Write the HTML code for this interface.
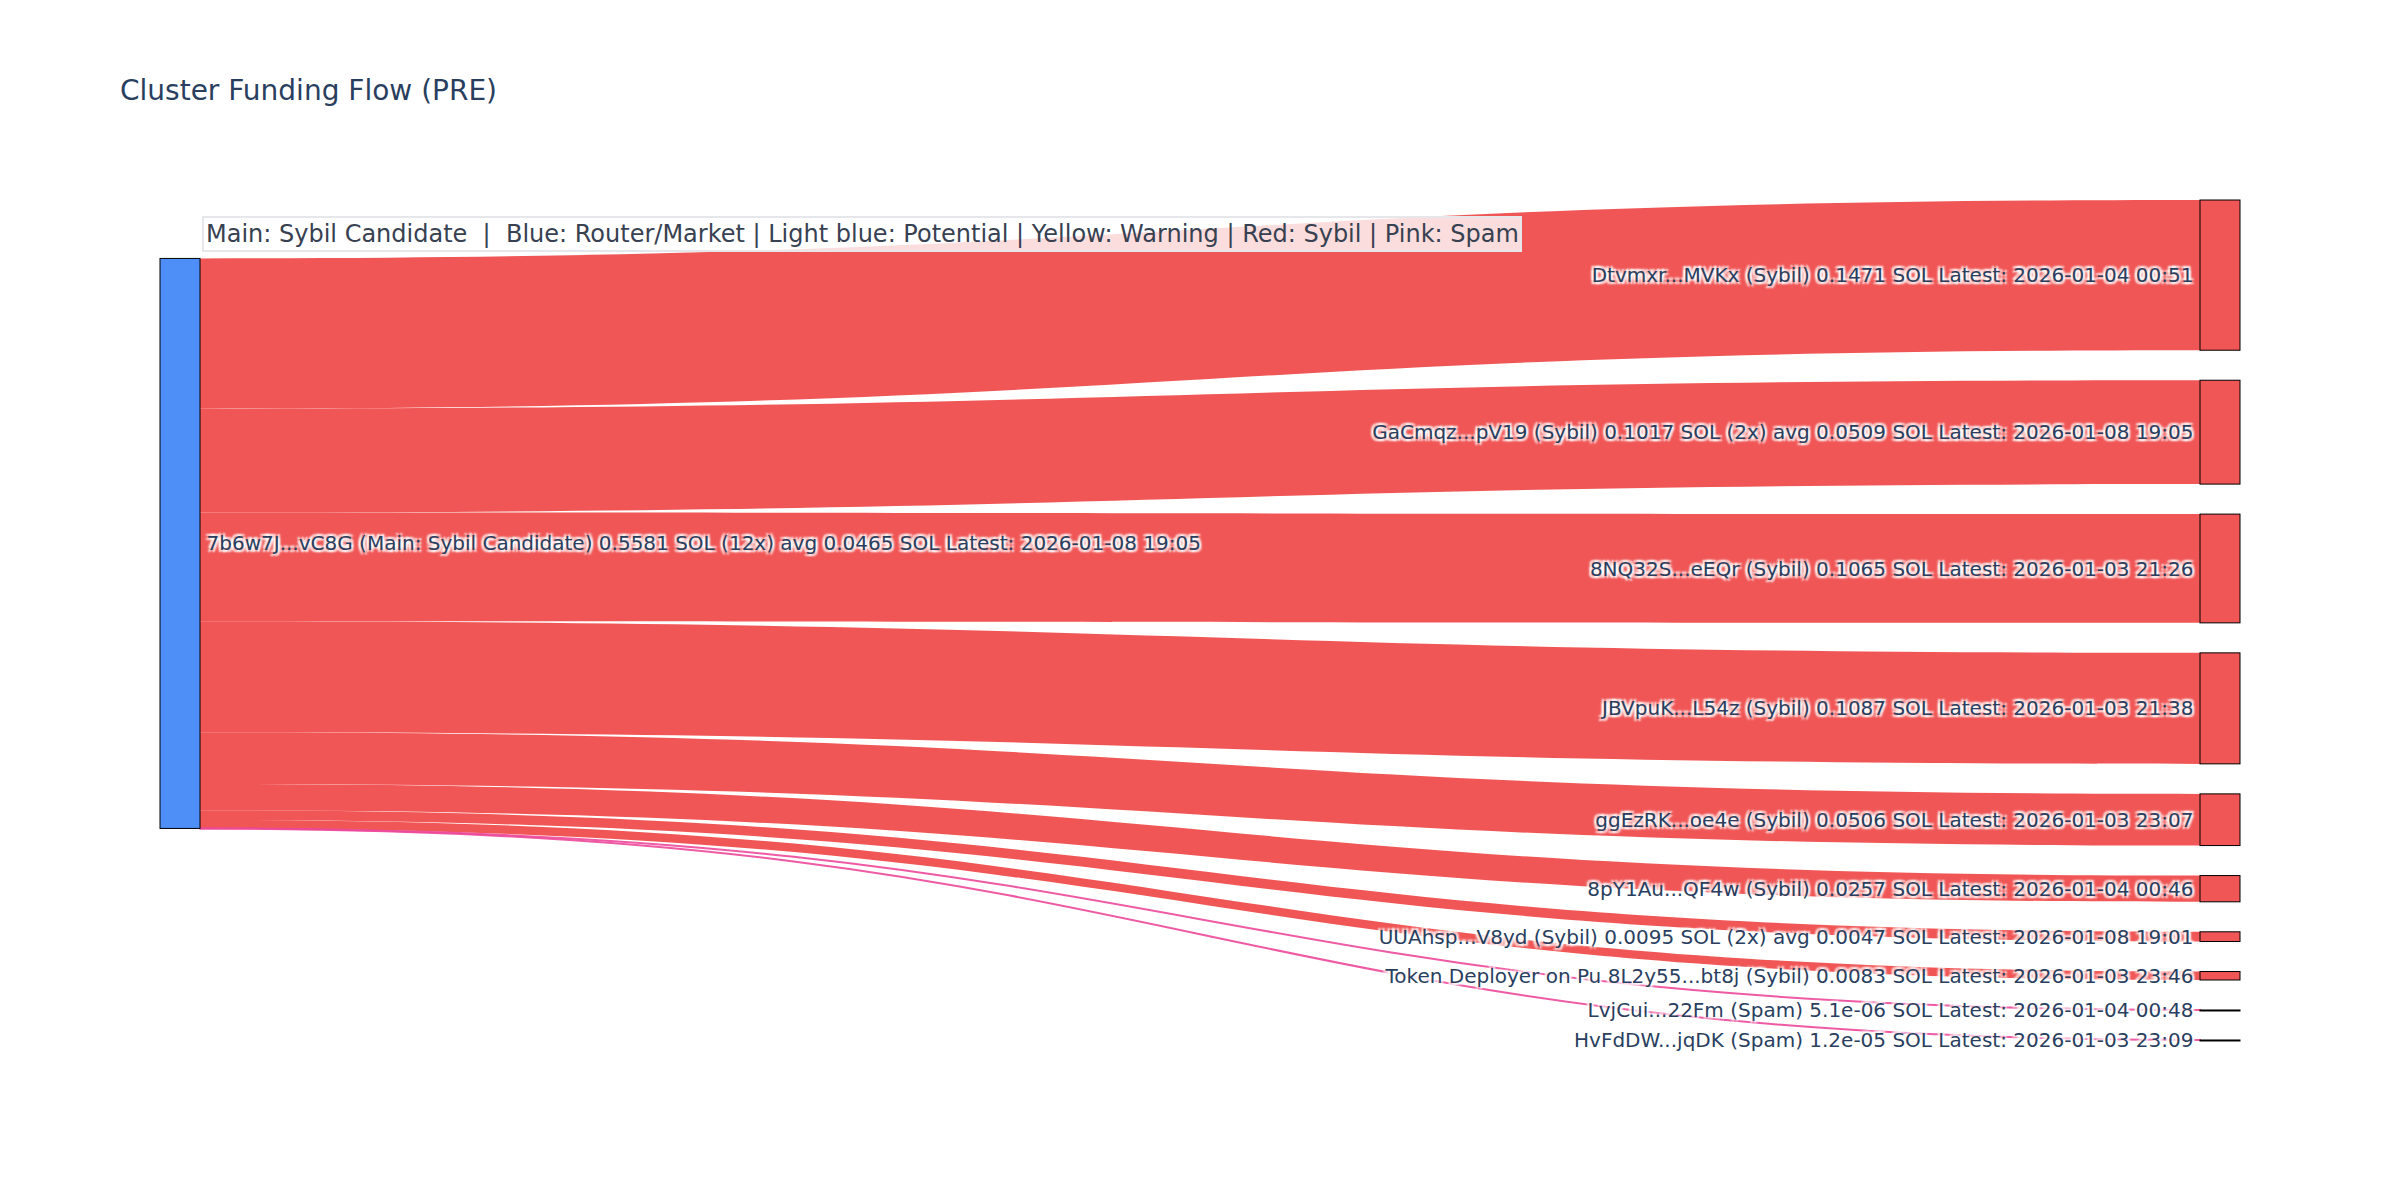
<!DOCTYPE html>
<html lang="en"><head><meta charset="utf-8"><title>Cluster Funding Flow (PRE)</title>
<style>
html,body{margin:0;padding:0;background:#fff;width:2400px;height:1200px;overflow:hidden}
svg{display:block}
text{font-family:"DejaVu Sans","Liberation Sans",sans-serif;white-space:pre}
.nl{font-size:20px;fill:#2a3f5f;text-shadow:2px 2px 2px #fff,-2px -2px 2px #fff,2px -2px 2px #fff,-2px 2px 2px #fff}
.title{font-size:28px;fill:#2a3f5f}
.ann{font-size:24px;fill:#374151}
</style></head><body>
<svg width="2400" height="1200" viewBox="0 0 2400 1200">
<rect width="2400" height="1200" fill="#fff"/>
<g class="links">
<path d="M200,258.43C1200,258.43 1200,200 2200,200L2200,350.23C1200,350.23 1200,408.66 200,408.66Z" fill="rgba(239,68,68,0.9)"/>
<path d="M200,408.66C1200,408.66 1200,380.23 2200,380.23L2200,484.1C1200,484.1 1200,512.52 200,512.52Z" fill="rgba(239,68,68,0.9)"/>
<path d="M200,512.52C1200,512.52 1200,514.1 2200,514.1L2200,622.86C1200,622.86 1200,621.29 200,621.29Z" fill="rgba(239,68,68,0.9)"/>
<path d="M200,621.29C1200,621.29 1200,652.86 2200,652.86L2200,763.88C1200,763.88 1200,732.3 200,732.3Z" fill="rgba(239,68,68,0.9)"/>
<path d="M200,732.3C1200,732.3 1200,793.88 2200,793.88L2200,845.56C1200,845.56 1200,783.98 200,783.98Z" fill="rgba(239,68,68,0.9)"/>
<path d="M200,783.98C1200,783.98 1200,875.56 2200,875.56L2200,901.8C1200,901.8 1200,810.23 200,810.23Z" fill="rgba(239,68,68,0.9)"/>
<path d="M200,810.23C1200,810.23 1200,931.8 2200,931.8L2200,941.51C1200,941.51 1200,819.93 200,819.93Z" fill="rgba(239,68,68,0.9)"/>
<path d="M200,819.93C1200,819.93 1200,971.51 2200,971.51L2200,979.98C1200,979.98 1200,828.41 200,828.41Z" fill="rgba(239,68,68,0.9)"/>
<path d="M200,828.41C1200,828.41 1200,1009.98 2200,1009.98L2200,1009.99C1200,1009.99 1200,828.41 200,828.41Z" fill="rgba(236,72,153,0.9)" stroke="rgba(236,72,153,0.9)" stroke-width="2"/>
<path d="M200,828.41C1200,828.41 1200,1039.99 2200,1039.99L2200,1040C1200,1040 1200,828.43 200,828.43Z" fill="rgba(236,72,153,0.9)" stroke="rgba(236,72,153,0.9)" stroke-width="2"/>
</g>
<g class="nodes">
<rect x="160" y="258.43" width="40" height="570" fill="rgba(59,130,246,0.9)" stroke="#000" stroke-width="1"/>
<rect x="2200" y="200" width="40" height="150.23" fill="rgba(239,68,68,0.9)" stroke="#000" stroke-width="1"/>
<rect x="2200" y="380.23" width="40" height="103.87" fill="rgba(239,68,68,0.9)" stroke="#000" stroke-width="1"/>
<rect x="2200" y="514.1" width="40" height="108.77" fill="rgba(239,68,68,0.9)" stroke="#000" stroke-width="1"/>
<rect x="2200" y="652.86" width="40" height="111.01" fill="rgba(239,68,68,0.9)" stroke="#000" stroke-width="1"/>
<rect x="2200" y="793.88" width="40" height="51.68" fill="rgba(239,68,68,0.9)" stroke="#000" stroke-width="1"/>
<rect x="2200" y="875.56" width="40" height="26.25" fill="rgba(239,68,68,0.9)" stroke="#000" stroke-width="1"/>
<rect x="2200" y="931.8" width="40" height="9.7" fill="rgba(239,68,68,0.9)" stroke="#000" stroke-width="1"/>
<rect x="2200" y="971.51" width="40" height="8.48" fill="rgba(239,68,68,0.9)" stroke="#000" stroke-width="1"/>
<rect x="2200" y="1009.98" width="40" height="1" fill="rgba(236,72,153,0.9)" stroke="#000" stroke-width="1"/>
<rect x="2200" y="1039.99" width="40" height="1" fill="rgba(236,72,153,0.9)" stroke="#000" stroke-width="1"/>
</g>
<g class="labels">
<text class="nl" x="206.5" y="550.43">7b6w7J...vC8G (Main: Sybil Candidate) 0.5581 SOL (12x) avg 0.0465 SOL Latest: 2026-01-08 19:05</text>
<text class="nl" x="2193.5" y="282.12" text-anchor="end">Dtvmxr...MVKx (Sybil) 0.1471 SOL Latest: 2026-01-04 00:51</text>
<text class="nl" x="2193.5" y="439.16" text-anchor="end">GaCmqz...pV19 (Sybil) 0.1017 SOL (2x) avg 0.0509 SOL Latest: 2026-01-08 19:05</text>
<text class="nl" x="2193.5" y="576" text-anchor="end">8NQ32S...eEQr (Sybil) 0.1065 SOL Latest: 2026-01-03 21:26</text>
<text class="nl" x="2193.5" y="715.37" text-anchor="end">JBVpuK...L54z (Sybil) 0.1087 SOL Latest: 2026-01-03 21:38</text>
<text class="nl" x="2193.5" y="826.72" text-anchor="end">ggEzRK...oe4e (Sybil) 0.0506 SOL Latest: 2026-01-03 23:07</text>
<text class="nl" x="2193.5" y="895.68" text-anchor="end">8pY1Au...QF4w (Sybil) 0.0257 SOL Latest: 2026-01-04 00:46</text>
<text class="nl" x="2193.5" y="943.65" text-anchor="end">UUAhsp...V8yd (Sybil) 0.0095 SOL (2x) avg 0.0047 SOL Latest: 2026-01-08 19:01</text>
<text class="nl" x="2193.5" y="982.74" text-anchor="end">Token Deployer on Pu 8L2y55...bt8j (Sybil) 0.0083 SOL Latest: 2026-01-03 23:46</text>
<text class="nl" x="2193.5" y="1017.48" text-anchor="end">LvjCui...22Fm (Spam) 5.1e-06 SOL Latest: 2026-01-04 00:48</text>
<text class="nl" x="2193.5" y="1047.49" text-anchor="end">HvFdDW...jqDK (Spam) 1.2e-05 SOL Latest: 2026-01-03 23:09</text>
</g>
<g class="annotation">
<rect x="203" y="217" width="1318" height="34" fill="rgba(255,255,255,0.8)" stroke="#e5e7eb" stroke-width="2"/>
<text class="ann" x="206" y="242">Main: Sybil Candidate  |  Blue: Router/Market | Light blue: Potential | Yellow: Warning | Red: Sybil | Pink: Spam</text>
</g>
<text class="title" x="120" y="100">Cluster Funding Flow (PRE)</text>
</svg>
</body></html>
